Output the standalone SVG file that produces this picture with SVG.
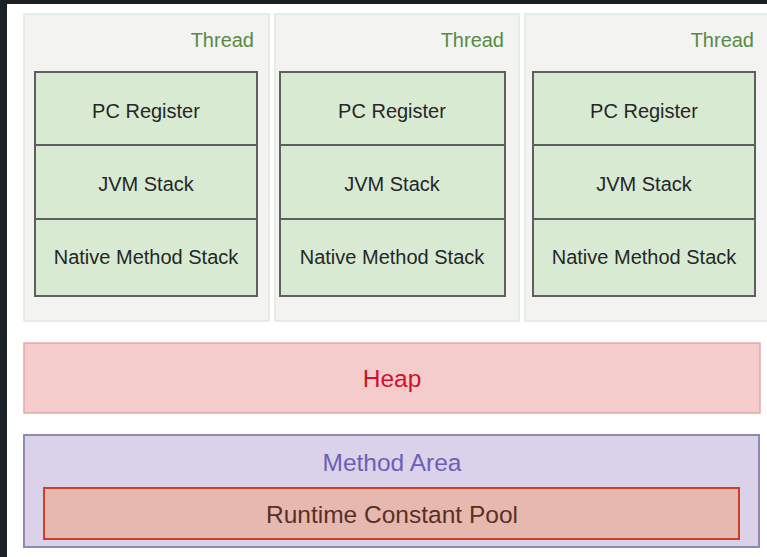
<svg xmlns="http://www.w3.org/2000/svg" width="767" height="557" viewBox="0 0 767 557">
<style>
.thr{fill:#f3f4f2;stroke:#dfe9dc;stroke-width:1.5}
.cell{fill:#d9ead3;stroke:#5f5f5f;stroke-width:2}
.t{font-family:"Liberation Sans",Arial,sans-serif;font-size:20px;fill:#262626;text-anchor:middle;dominant-baseline:central}
.th{font-family:"Liberation Sans",Arial,sans-serif;font-size:20px;fill:#588a44;text-anchor:end}
.big{font-family:"Liberation Sans",Arial,sans-serif;font-size:24.5px;text-anchor:middle;dominant-baseline:central}
</style>
<rect x="0" y="0" width="767" height="557" fill="#ffffff"/>
<rect x="0" y="0" width="767" height="4" fill="#1c2029"/>
<rect x="0" y="0" width="7" height="557" fill="#1c2029"/>
<g id="thread1">
<rect class="thr" x="24" y="14" width="245" height="307"/>
<text class="th" x="254" y="47">Thread</text>
<rect class="cell" x="35" y="72" width="222" height="73"/>
<text class="t" x="146" y="111">PC Register</text>
<rect class="cell" x="35" y="145" width="222" height="74"/>
<text class="t" x="146" y="184">JVM Stack</text>
<rect class="cell" x="35" y="219" width="222" height="77"/>
<text class="t" x="146" y="257">Native Method Stack</text>
</g>
<g id="thread2">
<rect class="thr" x="275" y="14" width="244" height="307"/>
<text class="th" x="504" y="47">Thread</text>
<rect class="cell" x="280" y="72" width="225" height="73"/>
<text class="t" x="392" y="111">PC Register</text>
<rect class="cell" x="280" y="145" width="225" height="74"/>
<text class="t" x="392" y="184">JVM Stack</text>
<rect class="cell" x="280" y="219" width="225" height="77"/>
<text class="t" x="392" y="257">Native Method Stack</text>
</g>
<g id="thread3">
<rect class="thr" x="525" y="14" width="245" height="307"/>
<text class="th" x="754" y="47">Thread</text>
<rect class="cell" x="533" y="72" width="222" height="73"/>
<text class="t" x="644" y="111">PC Register</text>
<rect class="cell" x="533" y="145" width="222" height="74"/>
<text class="t" x="644" y="184">JVM Stack</text>
<rect class="cell" x="533" y="219" width="222" height="77"/>
<text class="t" x="644" y="257">Native Method Stack</text>
</g>
<g id="heap">
<rect x="24" y="343" width="736" height="70" fill="#f4cccc" stroke="#e3a9a9" stroke-width="1.5"/>
<text class="big" x="392" y="378" fill="#d0102a">Heap</text>
</g>
<g id="method-area">
<rect x="24" y="435" width="735" height="112" fill="#d9d2e9" stroke="#8f89b3" stroke-width="2"/>
<text class="big" x="392" y="462" fill="#6d5fb8">Method Area</text>
</g>
<g id="runtime-constant-pool">
<rect x="44" y="488" width="695" height="51" fill="#e6b8af" stroke="#cc4125" stroke-width="2"/>
<text class="big" x="392" y="514" fill="#5a2f26">Runtime Constant Pool</text>
</g>
<g id="connectors"></g>
</svg>
